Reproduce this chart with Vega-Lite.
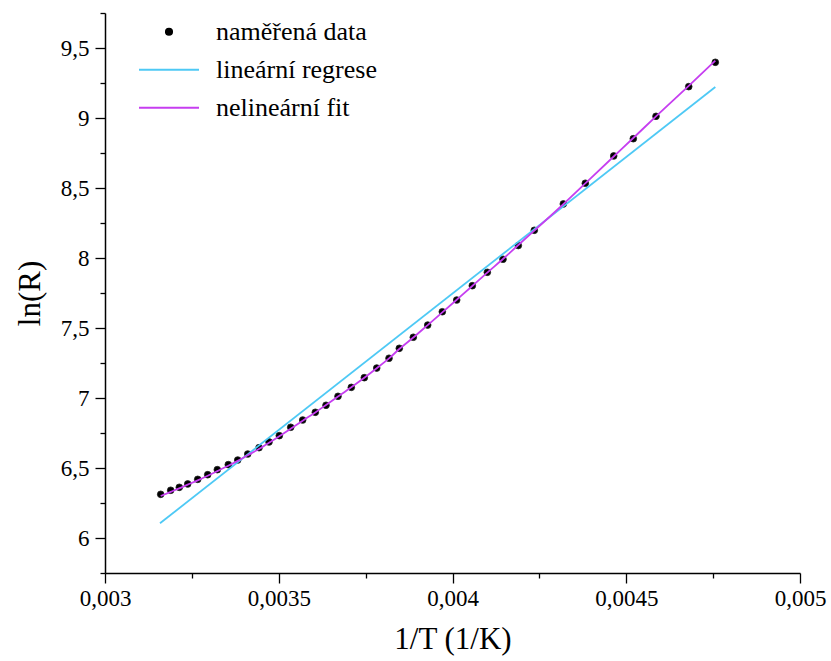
{
  "$schema": "https://vega.github.io/schema/vega-lite/v6.json",
  "width": 695,
  "height": 560,
  "autosize": {"type": "none"},
  "padding": {"left": 105, "top": 13, "right": 31, "bottom": 88},
  "background": "white",
  "config": {
    "view": {"stroke": null},
    "font": "Liberation Serif",
    "axis": {
      "domainColor": "black", "domainWidth": 1.5, "tickColor": "black", "tickWidth": 1.3,
      "labelFont": "Liberation Serif", "labelFontSize": 23, "labelColor": "black",
      "titleFont": "Liberation Serif", "titleFontSize": 31, "titleFontWeight": "normal", "titleColor": "black",
      "grid": false, "labelOverlap": false, "labelBound": false, "labelFlush": false
    }
  },
  "datasets": {
    "measured": [
      {"x": 0.0031603, "y": 6.312}, {"x": 0.0031891, "y": 6.341}, {"x": 0.0032138, "y": 6.362},
      {"x": 0.003238, "y": 6.386}, {"x": 0.0032668, "y": 6.419}, {"x": 0.0032955, "y": 6.452},
      {"x": 0.0033232, "y": 6.488}, {"x": 0.0033548, "y": 6.524}, {"x": 0.0033819, "y": 6.557},
      {"x": 0.0034107, "y": 6.600}, {"x": 0.0034432, "y": 6.645}, {"x": 0.003472, "y": 6.686},
      {"x": 0.0035016, "y": 6.731}, {"x": 0.0035344, "y": 6.791}, {"x": 0.0035689, "y": 6.843},
      {"x": 0.0036052, "y": 6.898}, {"x": 0.003636, "y": 6.948}, {"x": 0.0036705, "y": 7.012},
      {"x": 0.0037088, "y": 7.076}, {"x": 0.0037462, "y": 7.145}, {"x": 0.0037819, "y": 7.214},
      {"x": 0.0038173, "y": 7.284}, {"x": 0.0038469, "y": 7.355}, {"x": 0.0038872, "y": 7.434},
      {"x": 0.0039286, "y": 7.521}, {"x": 0.0039707, "y": 7.616}, {"x": 0.0040121, "y": 7.700},
      {"x": 0.004057, "y": 7.802}, {"x": 0.0041002, "y": 7.898}, {"x": 0.0041453, "y": 7.991},
      {"x": 0.0041894, "y": 8.089}, {"x": 0.0042354, "y": 8.198}, {"x": 0.0043189, "y": 8.386},
      {"x": 0.0043822, "y": 8.534}, {"x": 0.0044639, "y": 8.729}, {"x": 0.0045203, "y": 8.852},
      {"x": 0.0045856, "y": 9.012}, {"x": 0.0046798, "y": 9.224}, {"x": 0.0047563, "y": 9.398}
    ],
    "linear": [
      {"x": 0.0031583, "y": 6.105}, {"x": 0.0047563, "y": 9.221}
    ],
    "fit": [
      {"x": 0.0031603, "y": 6.300}, {"x": 0.0031891, "y": 6.330}, {"x": 0.0032138, "y": 6.355},
      {"x": 0.003238, "y": 6.381}, {"x": 0.0032668, "y": 6.412}, {"x": 0.0032955, "y": 6.445},
      {"x": 0.0033232, "y": 6.478}, {"x": 0.0033548, "y": 6.516}, {"x": 0.0033819, "y": 6.551},
      {"x": 0.0034107, "y": 6.591}, {"x": 0.0034432, "y": 6.636}, {"x": 0.003472, "y": 6.680},
      {"x": 0.0035016, "y": 6.727}, {"x": 0.0035344, "y": 6.781}, {"x": 0.0035689, "y": 6.838},
      {"x": 0.0036052, "y": 6.897}, {"x": 0.003636, "y": 6.950}, {"x": 0.0036705, "y": 7.010},
      {"x": 0.0037088, "y": 7.077}, {"x": 0.0037462, "y": 7.145}, {"x": 0.0037819, "y": 7.213},
      {"x": 0.0038173, "y": 7.283}, {"x": 0.0038469, "y": 7.350}, {"x": 0.0038872, "y": 7.432},
      {"x": 0.0039286, "y": 7.521}, {"x": 0.0039707, "y": 7.612}, {"x": 0.0040121, "y": 7.702},
      {"x": 0.004057, "y": 7.800}, {"x": 0.0041002, "y": 7.896}, {"x": 0.0041453, "y": 7.993},
      {"x": 0.0041894, "y": 8.093}, {"x": 0.0042354, "y": 8.196}, {"x": 0.0043189, "y": 8.384},
      {"x": 0.0043822, "y": 8.533}, {"x": 0.0044639, "y": 8.725}, {"x": 0.0045203, "y": 8.857},
      {"x": 0.0045856, "y": 9.012}, {"x": 0.0046798, "y": 9.230}, {"x": 0.0047563, "y": 9.410}
    ]
  },
  "encoding": {
    "x": {
      "field": "x", "type": "quantitative",
      "scale": {"domain": [0.003, 0.005], "nice": false, "zero": false},
      "axis": {
        "title": "1/T (1/K)",
        "values": [0.003, 0.00325, 0.0035, 0.00375, 0.004, 0.00425, 0.0045, 0.00475, 0.005],
        "labelExpr": "round(datum.value*4000) % 2 == 0 ? replace(format(datum.value, '~g'), '.', ',') : ''",
        "tickSize": {"condition": {"test": "round(datum.value*4000) % 2 == 0", "value": 10}, "value": 5},
        "labelPadding": 4,
        "titlePadding": 14
      }
    },
    "y": {
      "field": "y", "type": "quantitative",
      "scale": {"domain": [5.75, 9.75], "nice": false, "zero": false},
      "axis": {
        "title": "ln(R)",
        "values": [5.75, 6, 6.25, 6.5, 6.75, 7, 7.25, 7.5, 7.75, 8, 8.25, 8.5, 8.75, 9, 9.25, 9.5, 9.75],
        "labelExpr": "round(datum.value*4) % 2 == 0 ? replace(format(datum.value, '~g'), '.', ',') : ''",
        "tickSize": {"condition": {"test": "round(datum.value*4) % 2 == 0", "value": 10}, "value": 5},
        "labelPadding": 6,
        "titlePadding": 14
      }
    },
    "color": {
      "field": "series", "type": "nominal",
      "scale": {
        "domain": ["naměřená data", "lineární regrese", "nelineární fit"],
        "range": ["black", "#4ec9f5", "#c63ef0"]
      },
      "legend": {
        "title": null,
        "orient": "none",
        "legendX": 33,
        "legendY": 0,
        "padding": 0,
        "labelFont": "Liberation Serif",
        "labelFontSize": 26,
        "labelColor": "black",
        "labelLimit": 400,
        "labelOffset": 16,
        "rowPadding": 0,
        "clipHeight": 37.5,
        "symbolStrokeWidth": 1.5,
        "encode": {
          "symbols": {
            "update": {
              "shape": {"signal": "datum.value == 'naměřená data' ? 'circle' : 'stroke'"},
              "size": {"signal": "datum.value == 'naměřená data' ? 40 : 3600"},
              "stroke": {"signal": "scale('color', datum.value)"},
              "fill": {"signal": "datum.value == 'naměřená data' ? 'black' : 'transparent'"},
              "strokeWidth": {"value": 1.8},
              "opacity": {"value": 1}
            }
          }
        }
      }
    }
  },
  "layer": [
    {
      "data": {"name": "measured"},
      "transform": [{"calculate": "'naměřená data'", "as": "series"}],
      "mark": {"type": "point", "filled": true, "size": 45, "opacity": 1, "stroke": "#222222", "strokeWidth": 0.8}
    },
    {
      "data": {"name": "linear"},
      "transform": [{"calculate": "'lineární regrese'", "as": "series"}],
      "mark": {"type": "line", "strokeWidth": 1.8}
    },
    {
      "data": {"name": "fit"},
      "transform": [{"calculate": "'nelineární fit'", "as": "series"}],
      "mark": {"type": "line", "strokeWidth": 1.8, "interpolate": "monotone"}
    }
  ]
}
